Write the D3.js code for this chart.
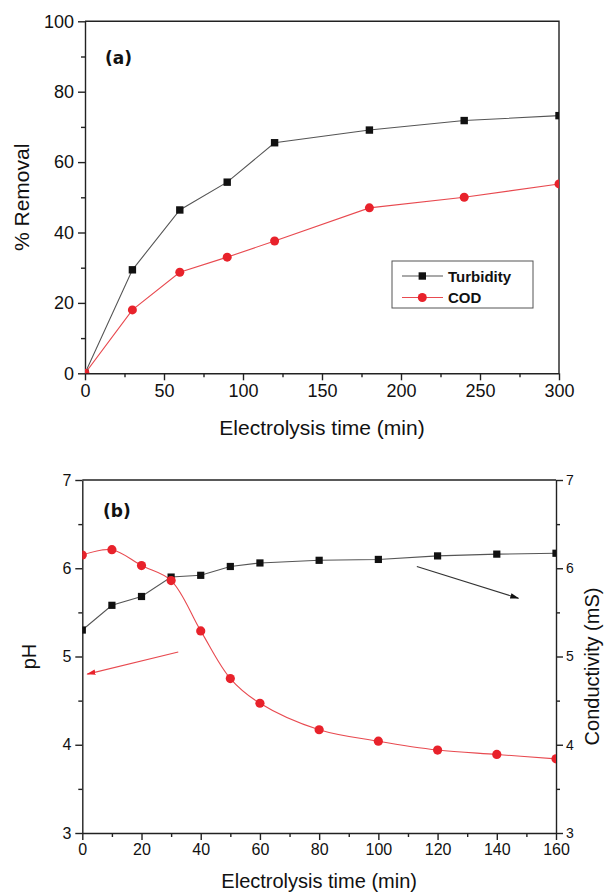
<!DOCTYPE html>
<html lang="en">
<head>
<meta charset="UTF-8">
<title>Electrolysis time charts</title>
<style>
  body { margin: 0; background: #fff; }
  svg text { font-family: "Liberation Sans", Arial, sans-serif; fill: #111; }
  .axis path, .axis line { stroke: #222; stroke-width: 1.4; }
  .axis text { font-family: "Liberation Sans", Arial, sans-serif; fill: #111; }
</style>
</head>
<body>
<div id="chart"></div>
<script src="https://d3js.org/d3.v7.min.js"></script>
<script>
// panel (a) data
const timeA = [0, 30, 60, 90, 120, 180, 240, 300];
const turbidity = [0, 29.4, 46.4, 54.3, 65.5, 69.1, 71.8, 73.2];
const codRemoval = [0, 18.0, 28.7, 33.0, 37.6, 47.0, 50.0, 53.8];

// panel (b) data
const timeB = [0, 10, 20, 30, 40, 50, 60, 80, 100, 120, 140, 160];
const conductivity = [5.30, 5.58, 5.68, 5.90, 5.92, 6.02, 6.06, 6.09, 6.10, 6.14, 6.16, 6.17];
const pH = [6.15, 6.21, 6.03, 5.86, 5.29, 4.75, 4.47, 4.17, 4.04, 3.94, 3.89, 3.84];

// arrows in (b), in data units: [x1, y1, x2, y2]
const pHArrow = [32.4, 5.05, 1.7, 4.80];
const condArrow = [113, 6.02, 147.3, 5.66];

const legendNames = ["Turbidity", "COD"];

const black = "#111", blackLine = "#555";
const red = "#e8222b", redLine = "#e84a50";

const svg = d3.select("#chart").append("svg")
  .attr("width", 605).attr("height", 894);

const defs = svg.append("defs");
function arrowHead(id, color) {
  defs.append("marker")
    .attr("id", id)
    .attr("viewBox", "0 0 10 10")
    .attr("refX", 9).attr("refY", 5)
    .attr("markerWidth", 9).attr("markerHeight", 9)
    .attr("markerUnits", "userSpaceOnUse")
    .attr("orient", "auto")
    .append("path")
    .attr("d", "M0,2 L10,5 L0,8 Z")
    .attr("fill", color);
}
arrowHead("arrRed", red);
arrowHead("arrBlack", black);

function clip(id, x, y) {
  defs.append("clipPath").attr("id", id)
    .append("rect")
    .attr("x", x.range()[0]).attr("y", y.range()[1])
    .attr("width", x.range()[1] - x.range()[0])
    .attr("height", y.range()[0] - y.range()[1]);
}

function minorTicks(g, axis, values, size) {
  g.append("g").attr("class", "axis")
    .call(axis.tickValues(values).tickSize(size).tickFormat("").tickSizeOuter(0))
    .call(s => s.select(".domain").remove());
}

const fmt = d3.format("d");

// ---------- panel (a) ----------
const xA = d3.scaleLinear().domain([0, 300]).range([85, 559]);
const yA = d3.scaleLinear().domain([0, 100]).range([373.3, 21.3]);
clip("clipA", xA, yA);

const gA = svg.append("g");

// frame top / right
gA.append("path")
  .attr("d", `M${xA(0)},${yA(100)} H${xA(300)} V${yA(0)}`)
  .attr("fill", "none").attr("stroke", "#222").attr("stroke-width", 1.4);

gA.append("g").attr("class", "axis")
  .attr("transform", `translate(0,${yA(0)})`)
  .call(d3.axisBottom(xA).tickValues(d3.range(0, 301, 50)).tickFormat(fmt).tickSize(7).tickSizeOuter(0).tickPadding(4))
  .call(s => s.selectAll("text").attr("font-size", 18));
minorTicks(gA.append("g").attr("transform", `translate(0,${yA(0)})`),
  d3.axisBottom(xA), d3.range(25, 300, 50), 4);

gA.append("g").attr("class", "axis")
  .attr("transform", `translate(${xA(0)},0)`)
  .call(d3.axisLeft(yA).tickValues(d3.range(0, 101, 20)).tickFormat(fmt).tickSize(7).tickSizeOuter(0).tickPadding(4))
  .call(s => s.selectAll("text").attr("font-size", 18));
minorTicks(gA.append("g").attr("transform", `translate(${xA(0)},0)`),
  d3.axisLeft(yA), d3.range(10, 100, 20), 4);

const lineA = d3.line().x(d => xA(d[0])).y(d => yA(d[1]));
const turbPts = timeA.map((t, i) => [t, turbidity[i]]);
const codPts = timeA.map((t, i) => [t, codRemoval[i]]);

const plotA = gA.append("g").attr("clip-path", "url(#clipA)");
plotA.append("path").datum(turbPts).attr("d", lineA)
  .attr("fill", "none").attr("stroke", blackLine).attr("stroke-width", 1.1);
plotA.append("path").datum(codPts).attr("d", lineA)
  .attr("fill", "none").attr("stroke", redLine).attr("stroke-width", 1.1);
plotA.selectAll("rect.sq").data(turbPts).join("rect").attr("class", "sq")
  .attr("x", d => xA(d[0]) - 3.7).attr("y", d => yA(d[1]) - 3.7)
  .attr("width", 7.4).attr("height", 7.4).attr("fill", black);
plotA.selectAll("circle").data(codPts).join("circle")
  .attr("cx", d => xA(d[0])).attr("cy", d => yA(d[1]))
  .attr("r", 4.5).attr("fill", red);

gA.append("text").attr("x", 105).attr("y", 64)
  .style("font-family", "'DejaVu Sans', Verdana, sans-serif")
  .attr("font-weight", "bold").attr("font-size", 17).text("(a)");

gA.append("text").attr("x", (xA(0) + xA(300)) / 2).attr("y", 435)
  .attr("text-anchor", "middle").attr("font-size", 21).text("Electrolysis time (min)");
gA.append("text")
  .attr("transform", `translate(29,${(yA(0) + yA(100)) / 2}) rotate(-90)`)
  .attr("text-anchor", "middle").attr("font-size", 21).text("% Removal");

// legend
const leg = gA.append("g");
leg.append("rect").attr("x", 392).attr("y", 261).attr("width", 141).attr("height", 47)
  .attr("fill", "#fff").attr("stroke", "#555").attr("stroke-width", 1);
legendNames.forEach((name, i) => {
  const yy = 276 + i * 21.5;
  leg.append("line").attr("x1", 402).attr("x2", 443).attr("y1", yy).attr("y2", yy)
    .attr("stroke", i === 0 ? blackLine : redLine).attr("stroke-width", 1.1);
  if (i === 0) {
    leg.append("rect").attr("x", 422.3 - 3.7).attr("y", yy - 3.7)
      .attr("width", 7.4).attr("height", 7.4).attr("fill", black);
  } else {
    leg.append("circle").attr("cx", 422.3).attr("cy", yy).attr("r", 4.5).attr("fill", red);
  }
  leg.append("text").attr("x", 448).attr("y", yy + 5.5)
    .attr("font-weight", "bold").attr("font-size", 15).text(name);
});

// ---------- panel (b) ----------
const xB = d3.scaleLinear().domain([0, 160]).range([82.3, 556]);
const yB = d3.scaleLinear().domain([3, 7]).range([833, 480]);     // pH
const yB2 = d3.scaleLinear().domain([3, 7]).range([833, 480]);    // conductivity
clip("clipB", xB, yB);

const gB = svg.append("g");

gB.append("line")
  .attr("x1", xB(0)).attr("x2", xB(160)).attr("y1", yB(7)).attr("y2", yB(7))
  .attr("stroke", "#222").attr("stroke-width", 1.4);

gB.append("g").attr("class", "axis")
  .attr("transform", `translate(0,${yB(3)})`)
  .call(d3.axisBottom(xB).tickValues(d3.range(0, 161, 20)).tickFormat(fmt).tickSize(7).tickSizeOuter(0).tickPadding(4))
  .call(s => s.selectAll("text").attr("font-size", 16));
minorTicks(gB.append("g").attr("transform", `translate(0,${yB(3)})`),
  d3.axisBottom(xB), d3.range(10, 160, 20), 4);

gB.append("g").attr("class", "axis")
  .attr("transform", `translate(${xB(0)},0)`)
  .call(d3.axisLeft(yB).tickValues(d3.range(3, 8, 1)).tickFormat(fmt).tickSize(7).tickSizeOuter(0).tickPadding(4))
  .call(s => s.selectAll("text").attr("font-size", 16));
minorTicks(gB.append("g").attr("transform", `translate(${xB(0)},0)`),
  d3.axisLeft(yB), d3.range(3.5, 7, 1), 4);

gB.append("g").attr("class", "axis")
  .attr("transform", `translate(${xB(160)},0)`)
  .call(d3.axisRight(yB2).tickValues(d3.range(3, 8, 1)).tickFormat(fmt).tickSize(7).tickSizeOuter(0).tickPadding(3))
  .call(s => s.selectAll("text").attr("font-size", 14));
minorTicks(gB.append("g").attr("transform", `translate(${xB(160)},0)`),
  d3.axisRight(yB2), d3.range(3.5, 7, 1), 4);

const condPts = timeB.map((t, i) => [t, conductivity[i]]);
const pHPts = timeB.map((t, i) => [t, pH[i]]);

const plotB = gB.append("g").attr("clip-path", "url(#clipB)");
plotB.append("path").datum(condPts)
  .attr("d", d3.line().x(d => xB(d[0])).y(d => yB2(d[1])))
  .attr("fill", "none").attr("stroke", blackLine).attr("stroke-width", 1.1);
plotB.append("path").datum(pHPts)
  .attr("d", d3.line().curve(d3.curveCatmullRom).x(d => xB(d[0])).y(d => yB(d[1])))
  .attr("fill", "none").attr("stroke", redLine).attr("stroke-width", 1.1);
plotB.selectAll("rect.sq").data(condPts).join("rect").attr("class", "sq")
  .attr("x", d => xB(d[0]) - 3.6).attr("y", d => yB2(d[1]) - 3.6)
  .attr("width", 7.2).attr("height", 7.2).attr("fill", black);
plotB.selectAll("circle").data(pHPts).join("circle")
  .attr("cx", d => xB(d[0])).attr("cy", d => yB(d[1]))
  .attr("r", 4.6).attr("fill", red);

gB.append("line")
  .attr("x1", xB(pHArrow[0])).attr("y1", yB(pHArrow[1]))
  .attr("x2", xB(pHArrow[2])).attr("y2", yB(pHArrow[3]))
  .attr("stroke", redLine).attr("stroke-width", 1.1).attr("marker-end", "url(#arrRed)");
gB.append("line")
  .attr("x1", xB(condArrow[0])).attr("y1", yB2(condArrow[1]))
  .attr("x2", xB(condArrow[2])).attr("y2", yB2(condArrow[3]))
  .attr("stroke", "#333").attr("stroke-width", 1.1).attr("marker-end", "url(#arrBlack)");

gB.append("text").attr("x", 103).attr("y", 517)
  .style("font-family", "'DejaVu Sans', Verdana, sans-serif")
  .attr("font-weight", "bold").attr("font-size", 17).text("(b)");

gB.append("text").attr("x", (xB(0) + xB(160)) / 2).attr("y", 888)
  .attr("text-anchor", "middle").attr("font-size", 20).text("Electrolysis time (min)");
gB.append("text")
  .attr("transform", `translate(36,${(yB(3) + yB(7)) / 2}) rotate(-90)`)
  .attr("text-anchor", "middle").attr("font-size", 20).text("pH");
gB.append("text")
  .attr("transform", `translate(599,${(yB(3) + yB(7)) / 2 + 10}) rotate(-90)`)
  .attr("text-anchor", "middle").attr("font-size", 20).text("Conductivity  (mS)");
</script>
</body>
</html>
